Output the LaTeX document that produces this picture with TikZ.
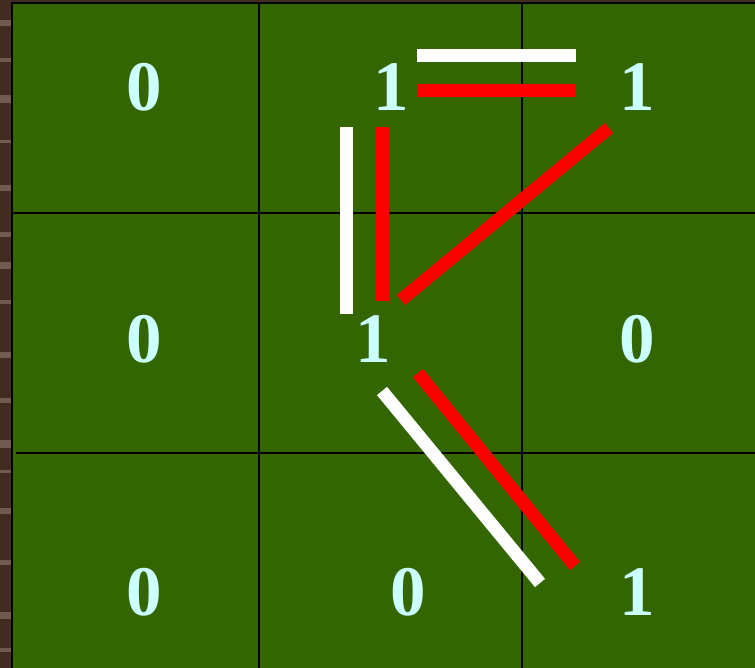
\documentclass[tikz,border=0pt]{standalone}
\usepackage{fontspec}
\setmainfont{Liberation Serif}
\usetikzlibrary{positioning}
\definecolor{boardG}{RGB}{51,102,0}
\definecolor{digitC}{RGB}{204,255,255}
\definecolor{woodD}{RGB}{66,44,34}
\definecolor{woodL}{RGB}{112,92,78}

\begin{document}
\begin{tikzpicture}[x=1pt, y=-1pt,
  digit/.style={text=digitC, font=\fontsize{71}{71}\selectfont\bfseries, inner sep=0pt},
  gridln/.style={draw=black, line width=1.5pt},
  wbar/.style={draw=white, line width=13pt},
  rbar/.style={draw=red, line width=13pt}
]
  \useasboundingbox (0,0) rectangle (755,668);

  % wood frame (left and top)
  \fill[woodD] (0,0) rectangle (755,668);
  \foreach \y/\h in {20/6, 58/4, 95/8, 140/3, 185/6, 232/5, 262/7, 300/4, 352/6, 398/5, 440/8, 470/3, 508/6, 560/5, 612/7, 648/4}
    \fill[woodL] (0,\y) rectangle (12,\y+\h);

  % board and grid
  \fill[boardG] (12,3) rectangle (755,668);
  \draw[gridln] (12,668) -- (12,3) -- (755,3);
  \draw[gridln] (259,3) -- (259,668);
  \draw[gridln] (522,3) -- (522,668);
  \draw[gridln] (12,213) -- (755,213);
  \draw[gridln] (16,453) -- (755,453);

  % top row
  \node[digit] (a1) at (144,87)  {0};
  \node[digit] (a2) at (391,87)  {1};
  \node[digit] (a3) at (637,87)  {1};
  % middle row
  \node[digit] (b1) at (144,339) {0};
  \node[digit] (b2) at (373,339) {1};
  \node[digit] (b3) at (637,339) {0};
  % bottom row
  \node[digit] (c1) at (144,592) {0};
  \node[digit] (c2) at (408,592) {0};
  \node[digit] (c3) at (637,592) {1};

  % bar ends
  \coordinate (wh1) at (417,55.5);  \coordinate (wh2) at (576,55.5);
  \coordinate (rh1) at (417,91);    \coordinate (rh2) at (576,91);
  \coordinate (wv1) at (346.5,127); \coordinate (wv2) at (346.5,314);
  \coordinate (rv1) at (382.5,127); \coordinate (rv2) at (382.5,301);
  \coordinate (rd1) at (609,128);   \coordinate (rd2) at (401,300);
  \coordinate (wd1) at (382,391);   \coordinate (wd2) at (540,583);
  \coordinate (rd3) at (418,373);   \coordinate (rd4) at (575,566);

  \draw[wbar] (wh1) -- (wh2);
  \draw[rbar] (rh1) -- (rh2);
  \draw[wbar] (wv1) -- (wv2);
  \draw[rbar] (rv1) -- (rv2);
  \draw[rbar] (rd1) -- (rd2);
  \draw[wbar] (wd1) -- (wd2);
  \draw[rbar] (rd3) -- (rd4);
\end{tikzpicture}
\end{document}
